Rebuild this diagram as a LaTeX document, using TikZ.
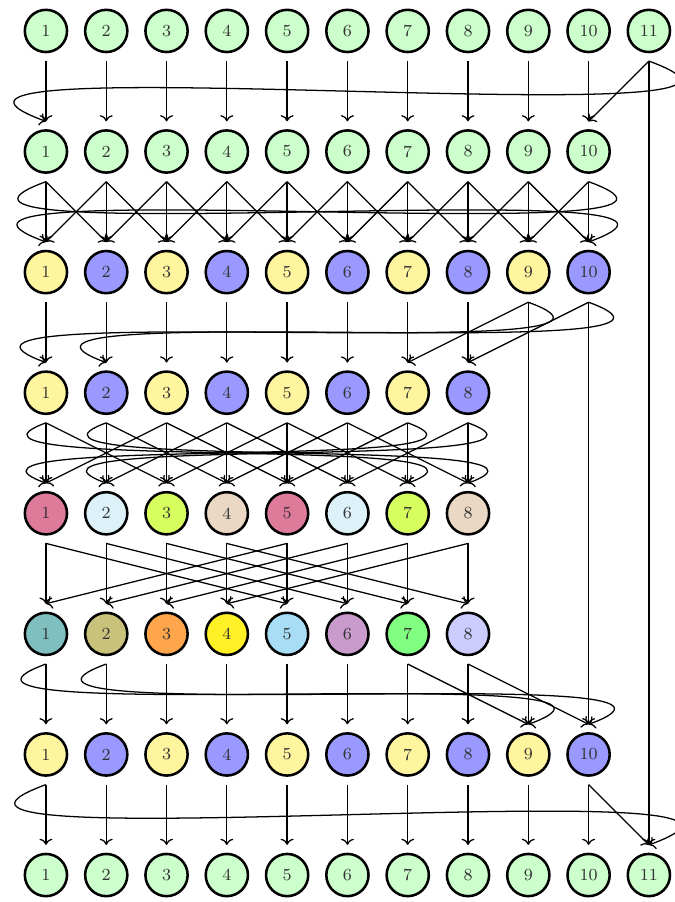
\documentclass[tikz,border=0pt]{standalone}
\usepackage{tikz}
\usetikzlibrary{arrows.meta}

\definecolor{lgreen}{HTML}{CCFFCC}
\definecolor{alt1}{HTML}{FFF59F}
\definecolor{alt0}{HTML}{9999FF}
\definecolor{q1}{HTML}{DE7A9A}
\definecolor{q2}{HTML}{DDF1F9}
\definecolor{q3}{HTML}{D6FF5E}
\definecolor{q4}{HTML}{EAD8C5}
\definecolor{p1}{HTML}{7FBFBF}
\definecolor{p2}{HTML}{C8C27B}
\definecolor{p3}{HTML}{FFA64D}
\definecolor{p4}{HTML}{FFF126}
\definecolor{p5}{HTML}{A7DDF5}
\definecolor{p6}{HTML}{C99ACC}
\definecolor{p7}{HTML}{80FF80}
\definecolor{p8}{HTML}{CCCCFF}

\tikzset{
  cell/.style={circle, draw, very thick, minimum size=0.70cm, inner sep=0pt, text=black!80, font=\footnotesize},
  flow/.style={-{To}, semithick},
  wrapr/.style={out=-20, in=160},
  wrapl/.style={out=200, in=20},
}

\begin{document}
\begin{tikzpicture}
\useasboundingbox (-0.762,0.513) rectangle (10.43,-14.447);

% input and output rows
\foreach \r/\y/\n in {1/0/11, 2/-2/10, 8/-14/11}
  \foreach \i in {1,...,\n}
    \node[cell, fill=lgreen] (n\r-\i) at (\i-1,\y) {\i};
% alternating rows
\foreach \r/\y/\n in {3/-4/10, 4/-6/8, 7/-12/10}
  \foreach \i in {1,...,\n} {
    \pgfmathtruncatemacro\p{mod(\i,2)}
    \node[cell, fill=alt\p] (n\r-\i) at (\i-1,\y) {\i};
  }
\foreach \i in {1,...,8} {
  \pgfmathtruncatemacro\q{mod(\i-1,4)+1}
  \node[cell, fill=q\q] (n5-\i) at (\i-1,-8) {\i};
  \node[cell, fill=p\i] (n6-\i) at (\i-1,-10) {\i};
}

% ports below and above each node
\foreach \r/\n in {1/11, 2/10, 3/10, 4/8, 5/8, 6/8, 7/10, 8/11}
  \foreach \i in {1,...,\n}
    \path (n\r-\i) ++(0,-0.5) coordinate (s\r-\i) ++(0,1) coordinate (t\r-\i);

% row 1 -> row 2
\foreach \i in {1,...,10} \draw[flow] (s1-\i) -- (t2-\i);
\draw[flow] (s1-11) -- (t2-10);
\draw[flow] (s1-11) to[wrapr] (t2-1);
\draw[flow] (s1-11) -- (t8-11);

% row 2 -> row 3
\foreach \i in {1,...,10} \draw[flow] (s2-\i) -- (t3-\i);
\foreach \i [evaluate=\i as \j using int(\i+1)] in {1,...,9} {
  \draw[flow] (s2-\i) -- (t3-\j);
  \draw[flow] (s2-\j) -- (t3-\i);
}
\draw[flow] (s2-1) to[wrapl] (t3-10);
\draw[flow] (s2-10) to[wrapr] (t3-1);

% row 3 -> row 4
\foreach \i in {1,...,8} \draw[flow] (s3-\i) -- (t4-\i);
\draw[flow] (s3-9) -- (t4-7);
\draw[flow] (s3-10) -- (t4-8);
\draw[flow] (s3-9) to[wrapr] (t4-1);
\draw[flow] (s3-10) to[wrapr] (t4-2);
\draw[flow] (s3-9) -- (t7-9);
\draw[flow] (s3-10) -- (t7-10);

% row 4 -> row 5
\foreach \i in {1,...,8} \draw[flow] (s4-\i) -- (t5-\i);
\foreach \i [evaluate=\i as \j using int(\i+2)] in {1,...,6} {
  \draw[flow] (s4-\i) -- (t5-\j);
  \draw[flow] (s4-\j) -- (t5-\i);
}
\draw[flow] (s4-1) to[wrapl] (t5-7);
\draw[flow] (s4-2) to[wrapl] (t5-8);
\draw[flow] (s4-7) to[wrapr] (t5-1);
\draw[flow] (s4-8) to[wrapr] (t5-2);

% row 5 -> row 6
\foreach \i [evaluate=\i as \j using int(\i+4)] in {1,...,4} {
  \draw[flow] (s5-\i) -- (t6-\i);
  \draw[flow] (s5-\j) -- (t6-\j);
  \draw[flow] (s5-\i) -- (t6-\j);
  \draw[flow] (s5-\j) -- (t6-\i);
}

% row 6 -> row 7
\foreach \i in {1,...,8} \draw[flow] (s6-\i) -- (t7-\i);
\draw[flow] (s6-7) -- (t7-9);
\draw[flow] (s6-8) -- (t7-10);
\draw[flow] (s6-1) to[wrapl] (t7-9);
\draw[flow] (s6-2) to[wrapl] (t7-10);

% row 7 -> row 8
\foreach \i in {1,...,10} \draw[flow] (s7-\i) -- (t8-\i);
\draw[flow] (s7-10) -- (t8-11);
\draw[flow] (s7-1) to[wrapl] (t8-11);
\end{tikzpicture}
\end{document}
